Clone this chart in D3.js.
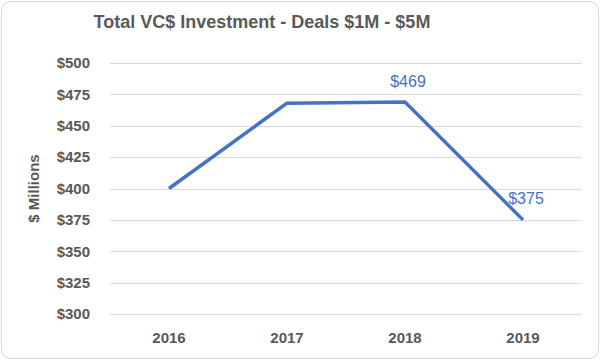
<!DOCTYPE html>
<meta charset="utf-8">
<style>
body { margin: 0; background: #fff; }
text { font-family: "Liberation Sans", Arial, sans-serif; }
.grid line { stroke: #d9d9d9; stroke-width: 1; }
.tick-label { fill: #595959; font-weight: bold; font-size: 15px; }
</style>
<body>
<svg id="chart"></svg>
<script src="https://d3js.org/d3.v7.min.js"></script>
<script>

var years = ["2016", "2017", "2018", "2019"];
var investment = [400, 468, 469, 375];
var labeled = [false, false, true, true];
var yTicks = [300, 325, 350, 375, 400, 425, 450, 475, 500];

var width = 600,
    height = 360;

var margin = {top: 63, right: 18, bottom: 46, left: 110};

var svg = d3.select("#chart")
    .attr("width", width)
    .attr("height", height);

svg.append("rect")
    .attr("x", 1.5)
    .attr("y", 1.5)
    .attr("width", width - 3)
    .attr("height", height - 3)
    .attr("rx", 9)
    .attr("fill", "#fff")
    .attr("stroke", "#d9d9d9");

var x = d3.scaleBand()
    .domain(years)
    .range([margin.left, width - margin.right]);

var y = d3.scaleLinear()
    .domain([300, 500])
    .range([height - margin.bottom, margin.top]);

// gridlines
svg.append("g")
    .attr("class", "grid")
  .selectAll("line")
  .data(yTicks)
  .enter().append("line")
    .attr("x1", margin.left)
    .attr("x2", width - margin.right)
    .attr("y1", function(d) { return Math.round(y(d)) + 0.5; })
    .attr("y2", function(d) { return Math.round(y(d)) + 0.5; });

// y labels
svg.append("g")
  .selectAll("text")
  .data(yTicks)
  .enter().append("text")
    .attr("class", "tick-label")
    .attr("x", margin.left - 20)
    .attr("y", function(d) { return y(d); })
    .attr("dy", "0.35em")
    .attr("text-anchor", "end")
    .text(function(d) { return "$" + d; });

// x labels
svg.append("g")
  .selectAll("text")
  .data(years)
  .enter().append("text")
    .attr("class", "tick-label")
    .attr("x", function(d) { return x(d) + x.bandwidth() / 2; })
    .attr("y", 338)
    .attr("dy", "0.35em")
    .attr("text-anchor", "middle")
    .text(function(d) { return d; });

// axis title
svg.append("text")
    .attr("transform", "translate(34," + (y(400)) + ")rotate(-90)")
    .attr("text-anchor", "middle")
    .attr("dy", "0.35em")
    .attr("fill", "#595959")
    .attr("font-weight", "bold")
    .attr("font-size", "15px")
    .text("$ Millions");

// title
svg.append("text")
    .attr("x", 262)
    .attr("y", 22)
    .attr("dy", "0.35em")
    .attr("text-anchor", "middle")
    .attr("fill", "#595959")
    .attr("font-weight", "bold")
    .attr("font-size", "18px")
    .text("Total VC$ Investment - Deals $1M - $5M");

var line = d3.line()
    .x(function(d, i) { return x(years[i]) + x.bandwidth() / 2; })
    .y(function(d) { return y(d); });

svg.append("path")
    .datum(investment)
    .attr("fill", "none")
    .attr("stroke", "#4472c4")
    .attr("stroke-width", 3.5)
    .attr("stroke-linejoin", "round")
    .attr("d", line);

svg.append("g")
  .selectAll("text")
  .data(investment.map(function(v, i) { return {v: v, i: i}; }).filter(function(d) { return labeled[d.i]; }))
  .enter().append("text")
    .attr("x", function(d) { return x(years[d.i]) + x.bandwidth() / 2 + 3; })
    .attr("y", function(d) { return y(d.v) - 21; })
    .attr("dy", "0.35em")
    .attr("text-anchor", "middle")
    .attr("fill", "#4472c4")
    .attr("font-size", "16px")
    .text(function(d) { return "$" + d.v; });

</script>
